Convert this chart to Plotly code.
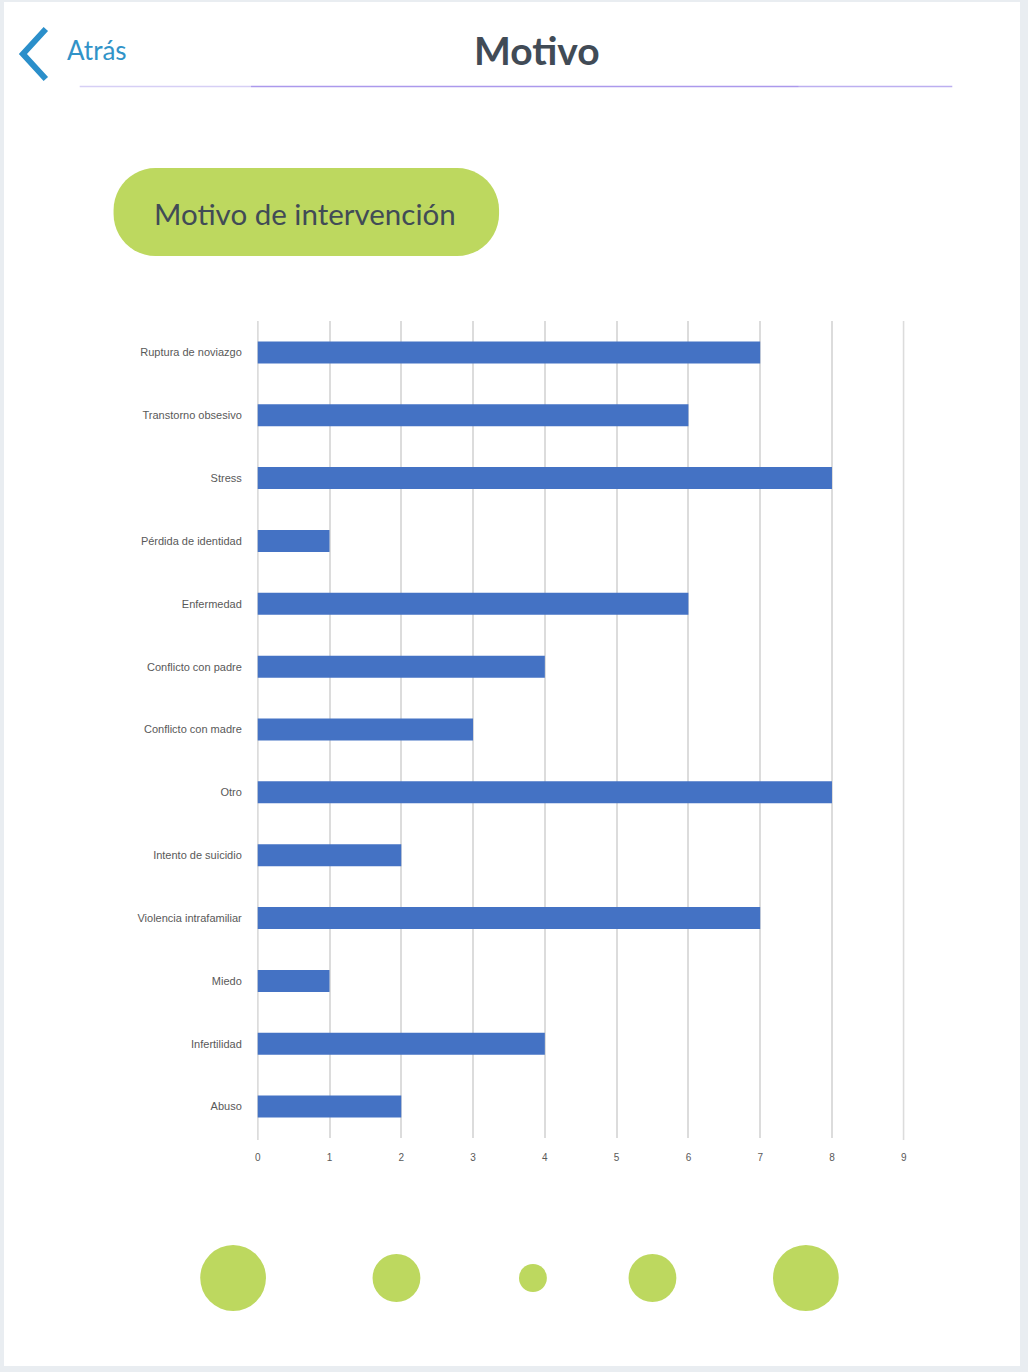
import math
import plotly.graph_objects as go

# ---- data ----
categories = [
    "Ruptura de noviazgo", "Transtorno obsesivo", "Stress", "Pérdida de identidad",
    "Enfermedad", "Conflicto con padre", "Conflicto con madre", "Otro",
    "Intento de suicidio", "Violencia intrafamiliar", "Miedo", "Infertilidad", "Abuso",
]
values = [7, 6, 8, 1, 6, 4, 3, 8, 2, 7, 1, 4, 2]
x_ticks = list(range(0, 10))

W, H = 1028, 1372


def px(x):
    return x / W


def py(y):
    return 1 - y / H


BLUE_BAR = "#4472c4"
GREEN = "#bdd85f"
DARK = "#414b56"
LINK = "#3193c8"
GRID = "#dcdcdc"

fig = go.Figure()
fig.add_trace(go.Bar(
    x=values, y=categories, orientation="h",
    marker=dict(color=BLUE_BAR, line=dict(width=0)),
    width=0.35, hoverinfo="x+y",
))

shapes = []
# white card
shapes.append(dict(type="rect", xref="paper", yref="paper", layer="below",
                   x0=px(2), x1=px(1022), y0=py(1366), y1=py(2),
                   fillcolor="white", line=dict(width=0)))
# edge gridlines (at the range limits, which plotly does not draw)
for gx in (x_ticks[0], x_ticks[-1]):
    shapes.append(dict(type="line", xref="x", yref="paper", layer="below",
                       x0=gx, x1=gx, y0=py(1140), y1=py(321),
                       line=dict(color=GRID, width=2)))
# chevron
shapes.append(dict(type="path", xref="paper", yref="paper",
                   path=f"M {px(44)} {py(29)} L {px(21)} {py(54)} L {px(44)} {py(79)}",
                   line=dict(color="#2b8fca", width=6)))
# header underline (gradient approximation)
segs = [(78, 250, "#d6cff5"), (250, 800, "#ab99ec"), (800, 954, "#bcaff0")]
for a, b, c in segs:
    shapes.append(dict(type="line", xref="paper", yref="paper",
                       x0=px(a), x1=px(b), y0=py(86.5), y1=py(86.5),
                       line=dict(color=c, width=1.5)))

# rounded pill
x0, x1, y0, y1, r = 112, 499, 168, 256, 42
pts = []
def arc(cx, cy, a0, a1, n=12):
    for i in range(n + 1):
        a = math.radians(a0 + (a1 - a0) * i / n)
        pts.append((cx + r * math.cos(a), cy + r * math.sin(a)))
arc(x1 - r, y0 + r, -90, 0)
arc(x1 - r, y1 - r, 0, 90)
arc(x0 + r, y1 - r, 90, 180)
arc(x0 + r, y0 + r, 180, 270)
path = "M " + " L ".join(f"{px(a):.5f} {py(b):.5f}" for a, b in pts) + " Z"
shapes.append(dict(type="path", xref="paper", yref="paper", path=path,
                   fillcolor=GREEN, line=dict(width=0), layer="below"))

# bottom circles
for cx, rr in [(232, 33), (396, 24), (533, 14), (653, 24), (807, 33)]:
    shapes.append(dict(type="circle", xref="paper", yref="paper",
                       x0=px(cx - rr), x1=px(cx + rr), y0=py(1278 + rr), y1=py(1278 - rr),
                       fillcolor=GREEN, line=dict(width=0)))

annotations = [
    dict(text="Atrás", x=px(63), y=py(50), xref="paper", yref="paper",
         xanchor="left", yanchor="middle", showarrow=False,
         font=dict(family="Lato", size=26, color=LINK)),
    dict(text="<b>Motivo</b>", x=px(537), y=py(50), xref="paper", yref="paper",
         xanchor="center", yanchor="middle", showarrow=False,
         font=dict(family="Lato", size=39, color=DARK)),
    dict(text="Motivo de intervención", x=px(151), y=py(213), xref="paper", yref="paper",
         xanchor="left", yanchor="middle", showarrow=False,
         font=dict(family="Lato", size=29.5, color=DARK)),
]

fig.update_layout(
    width=W, height=H, autosize=False,
    margin=dict(l=0, r=0, t=0, b=0),
    paper_bgcolor="#e9edf1", plot_bgcolor="white",
    showlegend=False, bargap=0.65,
    shapes=shapes, annotations=annotations,
    xaxis=dict(domain=[px(256), px(906)], range=[-0.01, 9.01], tickvals=x_ticks,
               showgrid=True, gridcolor=GRID, gridwidth=2,
               zeroline=False, showline=False,
               ticks="outside", ticklen=10, tickcolor="rgba(0,0,0,0)",
               tickfont=dict(family="Liberation Sans", size=10, color="#595959"),
               fixedrange=True),
    yaxis=dict(domain=[py(1138), py(321)], categoryorder="array",
               categoryarray=categories, autorange="reversed",
               showgrid=False, zeroline=False, showline=False,
               ticks="outside", ticklen=12, tickcolor="rgba(0,0,0,0)",
               tickfont=dict(family="Liberation Sans", size=11, color="#595959"),
               fixedrange=True),
)

fig.write_html("out.html", post_script="document.body.style.margin='0';",
               config={"displayModeBar": False})
